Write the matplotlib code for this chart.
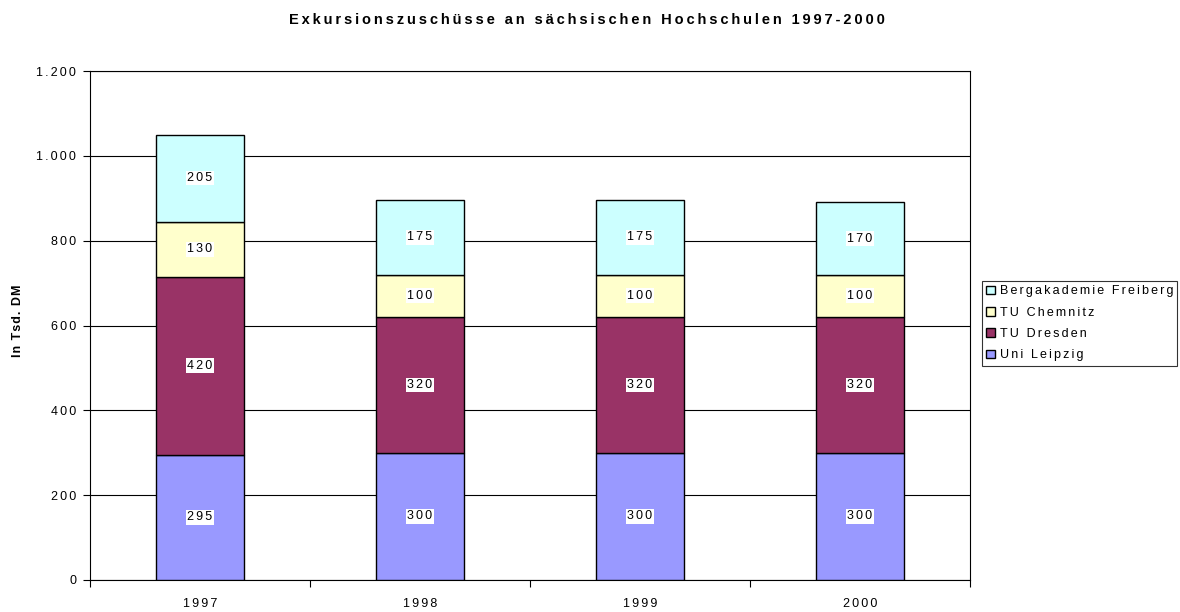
import numpy as np
import matplotlib.pyplot as plt
from matplotlib.ticker import FuncFormatter, FixedLocator

plt.rcParams['font.family'] = ['Liberation Sans', 'DejaVu Sans']

years = ['1997', '1998', '1999', '2000']
series = ['Uni Leipzig', 'TU Dresden', 'TU Chemnitz', 'Bergakademie Freiberg']
uni_leipzig = [295, 300, 300, 300]
tu_dresden = [420, 320, 320, 320]
tu_chemnitz = [130, 100, 100, 100]
bergakademie = [205, 175, 175, 170]
colors = ['#9999FF', '#993366', '#FFFFCC', '#CCFFFF']


def spaced(s, gap='\u2006'):
    # the original chart uses widely tracked text
    return gap.join(s)


fig = plt.figure(figsize=(11.8, 6.12), dpi=100)
ax = fig.add_axes([90 / 1180, 32 / 612, 880 / 1180, 509 / 612])

x = np.arange(len(years))
bottom = np.zeros(len(years))
handles = []
for name, vals, col in zip(series, [uni_leipzig, tu_dresden, tu_chemnitz, bergakademie], colors):
    vals = np.array(vals, dtype=float)
    b = ax.bar(x, vals, 0.4, bottom=bottom, color=col, edgecolor='black', linewidth=1.0, zorder=3)
    handles.append(b)
    for xi, bi, v in zip(x, bottom, vals):
        ax.text(xi, bi + v / 2, spaced(f'{int(v)}'), ha='center', va='center', fontsize=9, zorder=4,
                bbox=dict(facecolor='white', edgecolor='none', pad=1))
    bottom += vals

ax.set_xlim(-0.5, 3.5)
ax.set_ylim(0, 1200)
ax.set_yticks(np.arange(0, 1201, 200))
ax.yaxis.set_major_formatter(FuncFormatter(lambda v, p: spaced(f'{int(v):,}'.replace(',', '.'))))
ax.grid(axis='y', color='black', linewidth=0.8, zorder=0)

ax.xaxis.set_major_locator(FixedLocator([-0.5, 0.5, 1.5, 2.5, 3.5]))
ax.xaxis.set_minor_locator(FixedLocator(x))
ax.set_xticklabels([], minor=False)
ax.set_xticklabels([spaced(y) for y in years], minor=True)
ax.tick_params(axis='x', which='major', length=5, direction='out', color='black')
ax.tick_params(axis='x', which='minor', length=0, labelsize=9, pad=13)
ax.tick_params(axis='y', length=5, direction='out', labelsize=9, color='black', pad=5)

for s in ax.spines.values():
    s.set_color('black')
    s.set_linewidth(0.8)

ax.set_ylabel(spaced('In Tsd. DM', '\u200a'), fontsize=9, fontweight='bold')
ax.yaxis.set_label_coords(-0.075, 0.51)
fig.text(0.497, 1 - 20 / 612, spaced('Exkursionszuschüsse an sächsischen Hochschulen 1997-2000', '\u2009'),
         ha='center', va='center', fontsize=10.5, fontweight='bold')

leg = fig.legend(handles[::-1], [spaced(n) for n in series[::-1]], loc='upper left',
                 bbox_to_anchor=(982 / 1180, 1 - 281 / 612), fontsize=9,
                 frameon=True, fancybox=False, shadow=False, handlelength=0.7, handleheight=0.7,
                 handletextpad=0.35, borderpad=0.35, labelspacing=0.75, borderaxespad=0)
leg.get_frame().set_edgecolor('black')
leg.get_frame().set_linewidth(0.8)

fig.savefig('out.png', dpi=100)
